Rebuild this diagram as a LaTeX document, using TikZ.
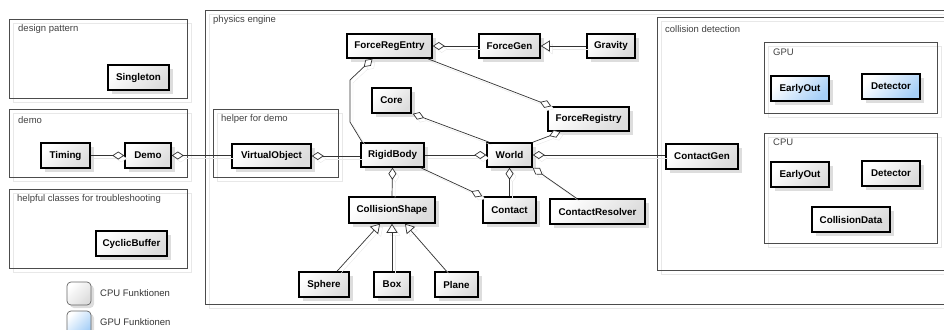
\documentclass[tikz,border=0pt]{standalone}
\usepackage{fontspec}
\setmainfont{Liberation Sans}
\usetikzlibrary{arrows.meta,shadows,calc}

\definecolor{boxgray}{HTML}{DCDCDC}
\definecolor{boxblue}{HTML}{A6CFF7}
\definecolor{shadowgray}{HTML}{DDDDDD}
\definecolor{lineshadow}{HTML}{E8E8E8}

\tikzset{
  cls/.style={draw=black, line width=1.5pt, inner sep=0pt,
    font=\fontsize{9.8}{11}\selectfont\bfseries,
    top color=white, bottom color=boxgray, shading angle=45,
    general shadow={fill=shadowgray, shadow xshift=4pt, shadow yshift=-4pt}},
  gpucls/.style={cls, top color=white, bottom color=boxblue, shading angle=45},
  pkg/.style={draw=black!70, line width=0.8pt,
    preaction={draw=lineshadow, transform canvas={shift={(4pt,-4pt)}}}},
  lbl/.style={anchor=west, inner sep=0pt, text=black!75,
    font=\fontsize{9.5}{11}\selectfont},
  conn/.style={draw=black!80, line width=0.7pt,
    preaction={draw=lineshadow, transform canvas={shift={(3pt,-3pt)}}}},
  agg/.style={conn, {Diamond[fill=white, length=12pt, width=8pt]}-},
  inh/.style={conn, -{Triangle[fill=white, length=9pt, width=11pt]}},
  legendbox/.style={draw=black!60, line width=0.7pt, rounded corners=4pt,
    minimum width=24pt, minimum height=23pt, inner sep=0pt,
    top color=white, bottom color=boxgray, shading angle=45,
    general shadow={fill=shadowgray, shadow xshift=3pt, shadow yshift=-3pt}},
}

\begin{document}
\begin{tikzpicture}[x=1pt, y=-1pt]
\useasboundingbox (0,0) rectangle (944,329);
\clip (0,0) rectangle (944,329);

% package frames
\draw[pkg] (9,19) rectangle (187,98);
\node[lbl] (lblpattern) at (18,29) {design pattern};
\draw[pkg] (9,109) rectangle (187,177);
\node[lbl] (lbldemo) at (18,120) {demo};
\draw[pkg] (9,189) rectangle (187,268);
\node[lbl] (lblhelpful) at (17,199) {helpful classes for troubleshooting};
\draw[pkg] (205,10) rectangle (970,304);
\node[lbl] (lblphysics) at (213,20) {physics engine};
\draw[pkg] (213,109) rectangle (338,177);
\node[lbl] (lblhelper) at (221,119) {helper for demo};
\draw[pkg] (657,17) rectangle (970,270);
\node[lbl] (lblcollision) at (665,29) {collision detection};
\draw[pkg] (764,42) rectangle (937,113);
\node[lbl] (lblgpu) at (773,52) {GPU};
\draw[pkg] (764,133) rectangle (937,243);
\node[lbl] (lblcpu) at (773,142) {CPU};

% classes
\node[cls, minimum width=61, minimum height=25] (singleton) at (138.5,77.5) {Singleton};
\node[cls, minimum width=49, minimum height=25] (timing) at (65.5,155.5) {Timing};
\node[cls, minimum width=46, minimum height=25] (demo) at (148,155.5) {Demo};
\node[cls, minimum width=71, minimum height=25] (cyclic) at (131.5,243.5) {CyclicBuffer};

\node[cls, minimum width=85, minimum height=24] (fre) at (389.5,46) {ForceRegEntry};
\node[cls, minimum width=61, minimum height=24] (fgen) at (509.5,46) {ForceGen};
\node[cls, minimum width=48, minimum height=24] (gravity) at (611,46) {Gravity};
\node[cls, minimum width=39, minimum height=25] (core) at (391.5,100.5) {Core};
\node[cls, minimum width=81, minimum height=24] (freg) at (588.5,119) {ForceRegistry};
\node[cls, minimum width=79, minimum height=24] (vobj) at (271.5,156) {VirtualObject};
\node[cls, minimum width=63, minimum height=24] (rb) at (392.5,155) {RigidBody};
\node[cls, minimum width=45, minimum height=24] (world) at (509.5,155) {World};
\node[cls, minimum width=86, minimum height=26] (cshape) at (392,210) {CollisionShape};
\node[cls, minimum width=53, minimum height=26] (contact) at (509.5,210) {Contact};
\node[cls, minimum width=95, minimum height=25] (cres) at (597.5,211.5) {ContactResolver};
\node[cls, minimum width=50, minimum height=25] (sphere) at (324,284.5) {Sphere};
\node[cls, minimum width=36, minimum height=25] (box) at (392,284.5) {Box};
\node[cls, minimum width=43, minimum height=25] (plane) at (456.5,284.5) {Plane};

\node[cls, minimum width=72, minimum height=25] (cgen) at (702,156.5) {ContactGen};
\node[gpucls, minimum width=58, minimum height=25] (gearly) at (800,88.5) {EarlyOut};
\node[gpucls, minimum width=58, minimum height=25] (gdet) at (891,86.5) {Detector};
\node[cls, minimum width=58, minimum height=25] (cearly) at (800,174.5) {EarlyOut};
\node[cls, minimum width=58, minimum height=25] (cdet) at (891,173.5) {Detector};
\node[cls, minimum width=78, minimum height=25] (cdata) at (851,219.5) {CollisionData};

% bends of the RigidBody - ForceRegEntry link
\coordinate (bendA) at (350,80);
\coordinate (bendB) at (350,122);

% associations
\draw[agg] (demo.west) -- (timing.east);
\draw[agg] (demo.east) -- (demo.east -| vobj.west);
\draw[agg] (vobj.east) -- (vobj.east -| rb.west);
\draw[agg] (world.west) -- (rb.east);
\draw[agg] (world.east) -- (world.east -| cgen.west);
\draw[agg] (fre.east) -- (fgen.west);
\draw[inh] (gravity.west) -- (fgen.east);
\draw[agg] ([xshift=-17pt]fre.south) -- (bendA) -- (bendB) -- ([xshift=2pt]rb.north west);
\draw[agg] ([xshift=4pt]freg.north west) -- ([xshift=-5pt]fre.south east);
\draw[agg] ([xshift=1pt]core.south east) -- ([xshift=3pt]world.north west);
\draw[agg] ([xshift=-28pt]freg.south) -- (world.north east);
\draw[agg] (rb.south) -- (cshape.north);
\draw[agg] (contact.north west) -- ([xshift=-4pt]rb.south east);
\draw[agg] (world.south) -- (contact.north);
\draw[agg] (world.south east) -- ([xshift=-21pt]cres.north);
\draw[inh] ([xshift=13pt]sphere.north) -- ([xshift=-12pt]cshape.south);
\draw[inh] (box.north) -- (cshape.south);
\draw[inh] ([xshift=-10pt]plane.north) -- ([xshift=13pt]cshape.south);

% legend
\node[legendbox] (legcpu) at (79,293.5) {};
\node[lbl, text=black!80] (legcputext) at (100,293) {CPU Funktionen};
\node[legendbox, top color=white, bottom color=boxblue, shading angle=45] (leggpu) at (79,322.5) {};
\node[lbl, text=black!80] (leggputext) at (100,322) {GPU Funktionen};
\end{tikzpicture}
\end{document}
